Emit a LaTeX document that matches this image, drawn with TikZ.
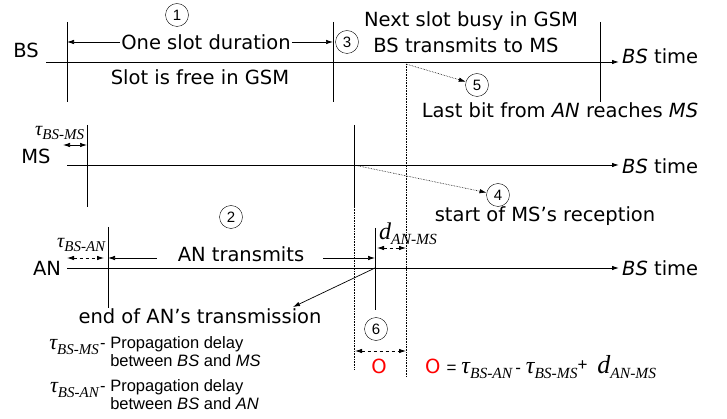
\documentclass[tikz,border=0pt]{standalone}
\usepackage{fontspec}
\setmainfont{DejaVu Sans}
\newfontfamily\arialfont{Liberation Sans}
\newfontfamily\timesfont{Liberation Serif}
\usetikzlibrary{arrows.meta}
\newcommand{\dly}[4]{{\timesfont\itshape\fontsize{#1}{#1}\selectfont #3\raisebox{-0.45ex}{\fontsize{#2}{#2}\selectfont #4}}}

\begin{document}
\begin{tikzpicture}[x=1pt, y=-1pt, >={Latex[length=7pt,width=4.5pt]},
  every node/.style={inner sep=1pt},
  lbl/.style={font=\fontsize{19.5}{22}\selectfont},
  legend/.style={font=\arialfont\fontsize{16.5}{18}\selectfont, align=left},
  num/.style={circle, draw, inner sep=0pt, minimum size=23pt, font=\arialfont\fontsize{15}{15}\selectfont},
  axis/.style={line width=0.9pt},
  tick/.style={line width=0.7pt},
  hint/.style={densely dotted, line width=0.6pt},
  span/.style={<->, dashed, line width=0.8pt}]
  \useasboundingbox (0,0) rectangle (727,419);

  % time axes
  \node[lbl] (bs) at (26,50) {BS};
  \node[lbl] (ms) at (36,156) {MS};
  \node[lbl] (an) at (47,268) {AN};
  \coordinate (bsL) at (46,62);  \coordinate (bsR) at (619,62);
  \coordinate (msL) at (67,165); \coordinate (msR) at (619,165);
  \coordinate (anL) at (67,268); \coordinate (anR) at (619,268);
  \draw[->, axis] (bsL) -- (bsR);
  \draw[->, axis] (msL) -- (msR);
  \draw[->, axis] (anL) -- (anR);
  \node[lbl, anchor=west] (bst) at (621,56)  {\textit{BS} time};
  \node[lbl, anchor=west] (mst) at (621,166) {\textit{BS} time};
  \node[lbl, anchor=west] (ant) at (621,268) {\textit{BS} time};

  % slot boundaries
  \foreach \n/\x/\ya/\yb in {s1/67/22/102, s2/333/22/102, s3/600/22/102,
                             m1/87/125/207, m2/354/125/207,
                             a1/108/227/308, a2/375/228/310}
    {\coordinate (\n-t) at (\x,\ya); \coordinate (\n-b) at (\x,\yb);
     \draw[tick] (\n-t) -- (\n-b);}

  % guides
  \coordinate (lb) at (406,64);  \coordinate (lbe) at (406,377);
  \coordinate (mse) at (354,370);
  \coordinate (msx) at (354,165); \coordinate (anx) at (375,268);
  \draw[hint] (m2-b) -- (mse);
  \draw[hint] (lb) -- (lbe);

  % BS slot
  \node[lbl] (one) at (206,42) {One slot duration};
  \draw[->, line width=0.7pt] (one.west) -- (one.west -| s1-t);
  \draw[->, line width=0.7pt] (one.east) -- (one.east -| s2-t);
  \node[lbl] (free) at (200,77) {Slot is free in GSM};
  \node[lbl] (busy) at (471,21) {Next slot busy in GSM};
  \node[lbl] (btx) at (466,45) {BS transmits to MS};
  \node[num] (c1) at (177,15) {1};
  \node[num] (c3) at (347,42) {3};

  % MS
  \node[anchor=west] (tms) at (34,133) {\dly{20}{15}{τ}{BS-MS}};
  \coordinate (tmsL) at (63,145);
  \draw[<->, line width=0.7pt] (tmsL) -- (tmsL -| m1-t);
  \node[num] (c5) at (477,85) {5};
  \draw[->, hint] (lb) -- (c5);
  \node[lbl] (last) at (560,110) {Last bit from \textit{AN} reaches \textit{MS}};
  \node[num] (c4) at (498,195) {4};
  \draw[->, hint] (msx) -- (c4);
  \node[lbl] (start) at (545,216) {start of MS's reception};

  % AN
  \node[num] (c2) at (231,217) {2};
  \node[anchor=west] (tan) at (56,245) {\dly{20}{15}{τ}{BS-AN}};
  \coordinate (tanL) at (67,258);
  \draw[span] (tanL) -- (tanL -| 104,0);
  \node[lbl] (antx) at (241,254) {AN transmits};
  \draw[->, line width=0.7pt] (antx.west |- 0,258) ++(-20,0) -- (a1-t |- 0,258);
  \draw[->, line width=0.7pt] (antx.east |- 0,258) ++(18,0) -- (a2-t |- 0,258);
  \node (dam) at (408,234) {\dly{24}{15.5}{d}{AN-MS}};
  \coordinate (damL) at (377,248);
  \draw[span] (damL) -- (damL -| lb);
  \node[lbl] (eot) at (200,316) {end of AN's transmission};
  \coordinate (eotp) at (293,307);
  \draw[->, line width=0.7pt] (anx) -- (eotp);

  % offset
  \node[num] (c6) at (376,329) {6};
  \coordinate (offL) at (355,351);
  \draw[span] (offL) -- (offL -| lb);
  \node[lbl, text=red] (off) at (379,366) {O};
  \node[anchor=west] (eq) at (424,367)
    {{\fontsize{19.5}{22}\selectfont\textcolor{red}{O}}\hspace{6pt}{\arialfont\fontsize{17}{19}\selectfont =}\hspace{5pt}%
     \dly{24}{15.5}{τ}{BS-AN}{\arialfont\fontsize{17}{19}\selectfont\hspace{3pt}-\hspace{5pt}}\dly{24}{15.5}{τ}{BS-MS}\raisebox{0.5ex}{\arialfont\fontsize{17}{19}\selectfont +}\hspace{10pt}\dly{26}{15.5}{d}{AN-MS}};

  % legend
  \node[anchor=east] (lg1) at (100,347) {\dly{22}{15}{τ}{BS-MS}};
  \node[legend, anchor=west] (lg1t) at (99,352) {- Propagation delay\\\phantom{- }between \textit{BS} and \textit{MS}};
  \node[anchor=east] (lg2) at (100,390) {\dly{22}{15}{τ}{BS-AN}};
  \node[legend, anchor=west] (lg2t) at (99,395) {- Propagation delay\\\phantom{- }between \textit{BS} and \textit{AN}};
\end{tikzpicture}
\end{document}
